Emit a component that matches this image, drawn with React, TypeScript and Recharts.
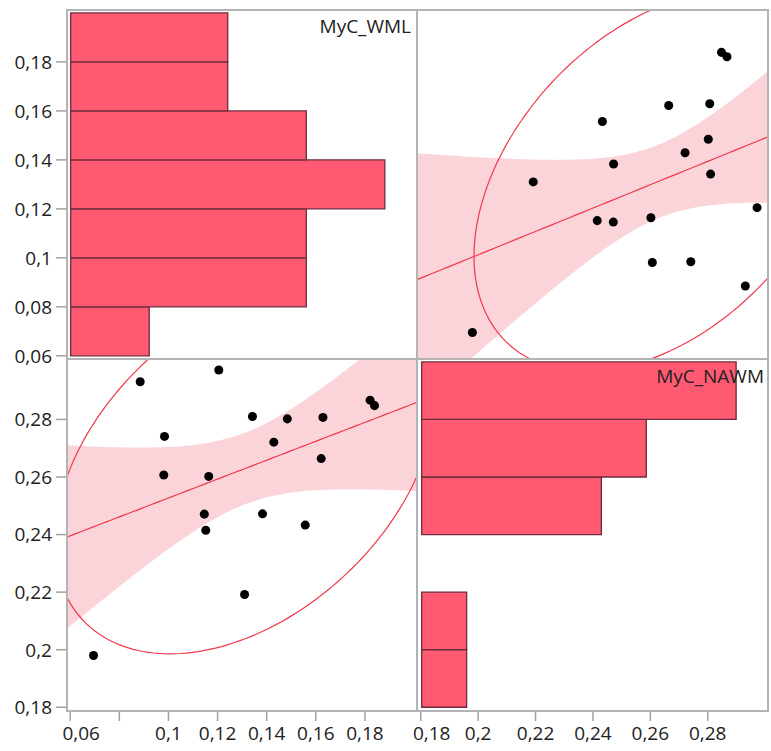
import React from "react";
import { ComposedChart, Scatter, Line, Area, XAxis, YAxis, ReferenceArea } from "recharts";

// valeurs (18 sujets)
const wml = [0.0695, 0.0885, 0.1205, 0.0984, 0.0981, 0.1164, 0.1146, 0.1152, 0.131, 0.1342, 0.1383, 0.1429, 0.1484, 0.1557, 0.1622, 0.1629, 0.1821, 0.1839];
const nawm = [0.198, 0.2931, 0.2972, 0.2741, 0.2607, 0.2602, 0.2471, 0.2415, 0.2192, 0.281, 0.2472, 0.2721, 0.2802, 0.2433, 0.2664, 0.2807, 0.2867, 0.2848];

const wmlTicks = [0.06, 0.08, 0.1, 0.12, 0.14, 0.16, 0.18];
const nawmTicks = [0.18, 0.2, 0.22, 0.24, 0.26, 0.28];
const wmlBottomLabels = ["0,06", "", "0,1", "0,12", "0,14", "0,16", "0,18"];
const nawmBottomLabels = ["0,18", "0,2", "0,22", "0,24", "0,26", "0,28"];

const binWidth = 0.02;
const wmlBinStart = 0.06;
const nawmBinStart = 0.18;

const wmlDomain: [number, number] = [0.0587, 0.2012];
const nawmDomain: [number, number] = [0.1787, 0.301];

const RED = "#f0384b";
const BAR = "#ff5a72";
const BAND = "#fbd4da";
const FONT = "'Open Sans', 'Noto Sans', sans-serif";

const fmt = (v: number) => String(+v.toFixed(2)).replace(".", ",");

function bins(vals: number[], start: number, n: number) {
  const out: { lo: number; hi: number; count: number }[] = [];
  for (let k = 0; k < n; k++) out.push({ lo: start + k * binWidth, hi: start + (k + 1) * binWidth, count: 0 });
  vals.forEach((v) => {
    const k = Math.floor((v - start) / binWidth + 1e-9);
    if (out[k]) out[k].count++;
  });
  return out.filter((b) => b.count > 0);
}

function moments(xs: number[], ys: number[]) {
  const n = xs.length;
  const mx = xs.reduce((a, b) => a + b, 0) / n;
  const my = ys.reduce((a, b) => a + b, 0) / n;
  let sxx = 0, sxy = 0, syy = 0;
  xs.forEach((x, i) => {
    sxx += (x - mx) ** 2;
    sxy += (x - mx) * (ys[i] - my);
    syy += (ys[i] - my) ** 2;
  });
  return { n, mx, my, sxx, sxy, syy };
}

// droite des moindres carrés + IC 95% de la moyenne
function fitLine(xs: number[], ys: number[], dom: [number, number]) {
  const { n, mx, my, sxx, sxy, syy } = moments(xs, ys);
  const b = sxy / sxx;
  const a = my - b * mx;
  const s = Math.sqrt((syy - b * sxy) / (n - 2));
  const t = 2.1199;
  const pts = [];
  for (let i = 0; i <= 80; i++) {
    const x = dom[0] + ((dom[1] - dom[0]) * i) / 80;
    const yh = a + b * x;
    const se = s * Math.sqrt(1 / n + (x - mx) ** 2 / sxx);
    pts.push({ x, fit: yh, band: [yh - t * se, yh + t * se] });
  }
  return pts;
}

// ellipse de densité 95% (normale bivariée)
function ellipse(xs: number[], ys: number[]) {
  const { n, mx, my, sxx, sxy, syy } = moments(xs, ys);
  const cxx = sxx / (n - 1), cxy = sxy / (n - 1), cyy = syy / (n - 1);
  const l00 = Math.sqrt(cxx);
  const l10 = cxy / l00;
  const l11 = Math.sqrt(cyy - l10 * l10);
  const r = Math.sqrt(5.991);
  const pts = [];
  for (let i = 0; i <= 200; i++) {
    const th = (2 * Math.PI * i) / 200;
    const u = Math.cos(th), v = Math.sin(th);
    pts.push({ x: mx + r * l00 * u, y: my + r * (l10 * u + l11 * v) });
  }
  return pts;
}

const tickLine = { stroke: "#a0a0a0", strokeWidth: 1.5 };

function YTick(props: any) {
  const { x, y, payload } = props;
  return (
    <text x={x} y={y} dy="0.36em" textAnchor="end" fill="#222" fontSize={19} fontFamily={FONT}>
      {fmt(payload.value)}
    </text>
  );
}

function makeXTick(ticks: number[], labels: string[]) {
  return (props: any) => {
    const { x, y, payload } = props;
    const i = ticks.findIndex((t) => Math.abs(t - payload.value) < 1e-9);
    const shift = i === 0 ? 11 : 0;
    return (
      <text x={x + shift} y={y} dy="0.75em" textAnchor="middle" fill="#222" fontSize={19} fontFamily={FONT}>
        {labels[i] ?? ""}
      </text>
    );
  };
}

function panelData(xs: number[], ys: number[], xDom: [number, number]) {
  return {
    pts: xs.map((x, i) => ({ x, y: ys[i] })),
    band: fitLine(xs, ys, xDom),
    ell: ellipse(xs, ys),
  };
}

export default function App() {
  const wmlBins = bins(wml, wmlBinStart, 7);
  const nawmBins = bins(nawm, nawmBinStart, 6);
  const tr = panelData(nawm, wml, nawmDomain);
  const bl = panelData(wml, nawm, wmlDomain);

  const frame = (left: number, top: number, w: number, h: number) => (
    <div
      style={{
        position: "absolute", left, top, width: w, height: h, boxSizing: "border-box",
        border: "2px solid #b4b4b4", pointerEvents: "none",
      }}
    />
  );

  return (
    <div style={{ position: "absolute", left: 0, top: 0, width: 771, height: 751, background: "#fff", fontFamily: FONT }}>
      {/* haut droite : WML vs NAWM */}
      <div style={{ position: "absolute", left: 417, top: 0 }}>
        <ComposedChart width={351} height={359} margin={{ top: 10, right: 0, bottom: 0, left: 0 }}>
          <XAxis type="number" dataKey="x" domain={nawmDomain} hide allowDataOverflow />
          <YAxis type="number" domain={wmlDomain} hide allowDataOverflow />
          <Area data={tr.band} dataKey="band" type="monotone" stroke="none" fill={BAND} fillOpacity={1} isAnimationActive={false} />
          <Line data={tr.band} dataKey="fit" type="linear" stroke={RED} strokeWidth={1.2} dot={false} isAnimationActive={false} />
          <Line data={tr.ell} dataKey="y" type="linear" stroke={RED} strokeWidth={1.2} dot={false} isAnimationActive={false} />
          <Scatter data={tr.pts} dataKey="y" fill="#000" isAnimationActive={false} />
        </ComposedChart>
      </div>

      {/* bas gauche : NAWM vs WML */}
      <div style={{ position: "absolute", left: 0, top: 359 }}>
        <ComposedChart width={417} height={392} margin={{ top: 0, right: 0, bottom: 0, left: 0 }}>
          <XAxis type="number" dataKey="x" domain={wmlDomain} ticks={wmlTicks} height={40} axisLine={false}
            tickLine={tickLine} tickSize={10} tickMargin={5} tick={makeXTick(wmlTicks, wmlBottomLabels)} allowDataOverflow interval={0} />
          <YAxis type="number" domain={nawmDomain} ticks={nawmTicks} width={67} axisLine={false}
            tickLine={tickLine} tickSize={11} tickMargin={4} tick={<YTick />} allowDataOverflow interval={0} />
          <Area data={bl.band} dataKey="band" type="monotone" stroke="none" fill={BAND} fillOpacity={1} isAnimationActive={false} />
          <Line data={bl.band} dataKey="fit" type="linear" stroke={RED} strokeWidth={1.2} dot={false} isAnimationActive={false} />
          <Line data={bl.ell} dataKey="y" type="linear" stroke={RED} strokeWidth={1.2} dot={false} isAnimationActive={false} />
          <Scatter data={bl.pts} dataKey="y" fill="#000" isAnimationActive={false} />
        </ComposedChart>
      </div>

      {/* haut gauche : histogramme MyC_WML (svg plus haut pour que "0,06" ne soit pas coupé) */}
      <div style={{ position: "absolute", left: 0, top: 0 }}>
        <ComposedChart width={417} height={375} margin={{ top: 10, right: 0, bottom: 16, left: 0 }} data={[]}>
          <XAxis type="number" dataKey="x" domain={[-0.047, 4.41]} hide allowDataOverflow />
          <YAxis type="number" domain={wmlDomain} ticks={wmlTicks} width={67} axisLine={false}
            tickLine={tickLine} tickSize={11} tickMargin={4} tick={<YTick />} allowDataOverflow interval={0} />
          {wmlBins.map((b) => (
            <ReferenceArea key={b.lo} x1={0} x2={b.count} y1={b.lo} y2={b.hi}
              fill={BAR} fillOpacity={1} stroke="#6e2a3a" strokeWidth={1.3} ifOverflow="visible" />
          ))}
        </ComposedChart>
      </div>

      {/* bas droite : histogramme MyC_NAWM (marge gauche pour le libellé "0,18") */}
      <div style={{ position: "absolute", left: 397, top: 359 }}>
        <ComposedChart width={371} height={392} margin={{ top: 0, right: 0, bottom: 0, left: 20 }} data={[]}>
          <XAxis type="number" dataKey="x" domain={nawmDomain} ticks={nawmTicks} height={40} axisLine={false}
            tickLine={tickLine} tickSize={10} tickMargin={5} tick={makeXTick(nawmTicks, nawmBottomLabels)} allowDataOverflow interval={0} />
          <XAxis xAxisId={1} type="number" dataKey="c" domain={[-0.105, 7.71]} hide allowDataOverflow />
          <YAxis type="number" domain={nawmDomain} hide allowDataOverflow />
          {nawmBins.map((b) => (
            <ReferenceArea key={b.lo} xAxisId={1} x1={0} x2={b.count} y1={b.lo} y2={b.hi}
              fill={BAR} fillOpacity={1} stroke="#6e2a3a" strokeWidth={1.3} ifOverflow="visible" />
          ))}
        </ComposedChart>
      </div>

      {frame(66, 9, 352, 351)}
      {frame(416, 9, 353, 351)}
      {frame(66, 358, 352, 354)}
      {frame(416, 358, 353, 354)}

      <div style={{ position: "absolute", right: 771 - 411, top: 13, fontSize: 19, color: "#222", lineHeight: "26px" }}>MyC_WML</div>
      <div style={{ position: "absolute", right: 771 - 764, top: 363, fontSize: 19, color: "#222", lineHeight: "26px" }}>MyC_NAWM</div>
    </div>
  );
}
